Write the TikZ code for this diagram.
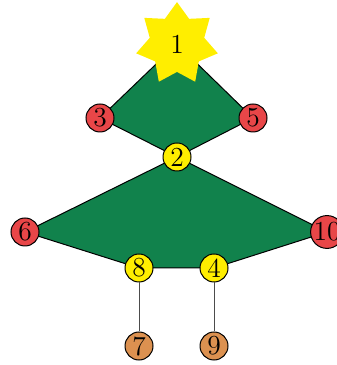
\documentclass[tikz,border=0pt]{standalone}
\usetikzlibrary{shapes.geometric}
\definecolor{treegreen}{RGB}{17,130,76}
\definecolor{ballred}{RGB}{232,70,72}
\definecolor{ballyellow}{RGB}{255,238,0}
\definecolor{ballorange}{RGB}{220,145,80}
\begin{document}
\begin{tikzpicture}[x=.4pt,y=.4pt,font=\fontsize{11}{13}\selectfont,
 ball/.style={circle,draw,line width=.4pt,inner sep=0pt,minimum size=11.2pt},
 topstar/.style={star,star points=7,star point ratio=1.5,fill=ballyellow,inner sep=0pt,minimum size=33.5pt}]
 \useasboundingbox (0,0) rectangle (337,365);
 % node centres
 \coordinate (c1) at (177,321);
 \coordinate (c3) at (100,247);
 \coordinate (c5) at (253,247);
 \coordinate (c2) at (177,208);
 \coordinate (c6) at (25,133);
 \coordinate (c10) at (327,133);
 \coordinate (c8) at (139,97);
 \coordinate (c4) at (214,97);
 \coordinate (c7) at (139,19);
 \coordinate (c9) at (214,19);
 % tree body
 \filldraw[fill=treegreen,line width=.4pt] (c1)--(c3)--(c2)--(c5)--cycle;
 \filldraw[fill=treegreen,line width=.4pt] (c2)--(c6)--(c8)--(c4)--(c10)--cycle;
 % balls
 \node[topstar] (n1) at (c1) {1};
 \node[ball,fill=ballred] (n3) at (c3) {3};
 \node[ball,fill=ballred] (n5) at (c5) {5};
 \node[ball,fill=ballyellow] (n2) at (c2) {2};
 \node[ball,fill=ballred] (n6) at (c6) {6};
 \node[ball,fill=ballred] (n10) at (c10) {10};
 \node[ball,fill=ballyellow] (n8) at (c8) {8};
 \node[ball,fill=ballyellow] (n4) at (c4) {4};
 \node[ball,fill=ballorange] (n7) at (c7) {7};
 \node[ball,fill=ballorange] (n9) at (c9) {9};
 % trunks
 \draw[black!70,line width=.4pt] (n8)--(n7);
 \draw[black!70,line width=.4pt] (n4)--(n9);
\end{tikzpicture}
\end{document}
